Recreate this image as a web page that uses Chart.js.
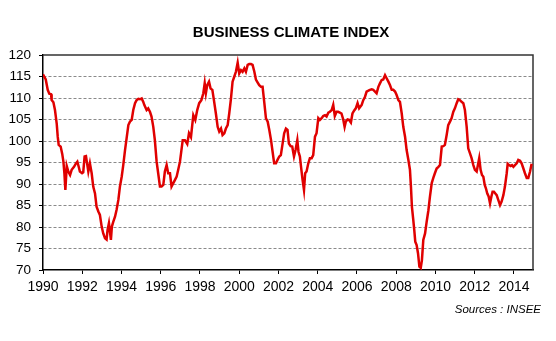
<!DOCTYPE html>
<html>
<head>
<meta charset="utf-8">
<script src="https://cdn.jsdelivr.net/npm/chart.js@4/dist/chart.umd.min.js"></script>
<style>
html,body{margin:0;padding:0;background:#fff;}
#wrap{width:556px;height:341px;position:relative;}
</style>
</head>
<body>
<div id="wrap"><canvas id="c" width="556" height="341"></canvas></div>
<script>
const chartTitle = 'BUSINESS CLIMATE INDEX';
const sourceNote = 'Sources : INSEE';
const xMin = 1990, xMax = 2014.97, xStep = 2;
const yMin = 70, yMax = 120, yStep = 5;

// decimal year of each observation
const dates = [
1990.00,1990.14,1990.24,1990.32,1990.41,1990.44,1990.53,1990.61,1990.70,1990.75,1990.80,1990.90,1990.98,
1991.04,1991.09,1991.14,1991.21,1991.29,1991.38,1991.46,1991.58,1991.68,1991.75,1991.82,1991.88,1991.99,
1992.05,1992.12,1992.19,1992.26,1992.31,1992.39,1992.48,1992.56,1992.65,1992.73,1992.82,1992.90,1992.99,
1993.07,1993.16,1993.24,1993.29,1993.36,1993.41,1993.46,1993.51,1993.58,1993.67,1993.75,1993.84,1993.92,
1994.01,1994.09,1994.18,1994.26,1994.35,1994.43,1994.52,1994.60,1994.69,1994.77,1994.86,1994.94,
1995.03,1995.11,1995.16,1995.28,1995.36,1995.45,1995.53,1995.62,1995.70,1995.79,1995.87,1995.96,
1996.04,1996.13,1996.21,1996.30,1996.38,1996.47,1996.55,1996.64,1996.72,1996.81,1996.89,1996.98,
1997.12,1997.23,1997.35,1997.44,1997.54,1997.66,1997.76,1997.86,1997.96,
1998.07,1998.17,1998.24,1998.30,1998.37,1998.46,1998.54,1998.63,1998.71,1998.81,1998.90,1998.98,
1999.07,1999.15,1999.24,1999.32,1999.41,1999.49,1999.58,1999.66,1999.75,1999.83,1999.92,
2000.00,2000.09,2000.17,2000.26,2000.34,2000.43,2000.51,2000.60,2000.68,2000.77,2000.85,2000.94,
2001.02,2001.11,2001.19,2001.28,2001.36,2001.45,2001.53,2001.62,2001.70,2001.78,2001.87,2001.95,
2002.04,2002.12,2002.21,2002.29,2002.38,2002.46,2002.53,2002.62,2002.70,2002.79,2002.87,2002.96,
2003.02,2003.09,2003.16,2003.23,2003.30,2003.36,2003.43,2003.52,2003.60,2003.69,2003.77,2003.86,2003.94,
2004.03,2004.11,2004.20,2004.28,2004.37,2004.45,2004.54,2004.62,2004.71,2004.79,2004.87,2004.96,
2005.04,2005.13,2005.21,2005.30,2005.37,2005.43,2005.52,2005.60,2005.69,2005.77,2005.86,2005.94,
2006.03,2006.11,2006.24,2006.32,2006.41,2006.49,2006.58,2006.66,2006.75,2006.83,2006.92,
2007.00,2007.09,2007.17,2007.26,2007.34,2007.43,2007.51,2007.60,2007.68,2007.77,2007.85,2007.94,
2008.02,2008.11,2008.19,2008.28,2008.36,2008.45,2008.53,2008.62,2008.70,2008.75,2008.80,2008.87,2008.92,2008.97,
2009.04,2009.11,2009.18,2009.25,2009.31,2009.38,2009.47,2009.55,2009.64,2009.72,2009.81,2009.89,2009.97,
2010.06,2010.15,2010.23,2010.32,2010.40,2010.48,2010.57,2010.65,2010.74,2010.82,2010.91,2010.99,
2011.08,2011.16,2011.25,2011.33,2011.42,2011.50,2011.59,2011.67,2011.76,2011.84,2011.93,
2012.01,2012.10,2012.18,2012.23,2012.30,2012.37,2012.44,2012.51,2012.57,2012.64,2012.71,2012.78,2012.85,2012.91,2012.98,
2013.05,2013.12,2013.20,2013.29,2013.37,2013.46,2013.54,2013.63,2013.68,2013.75,2013.83,2013.90,2013.97,
2014.05,2014.14,2014.22,2014.31,2014.39,2014.48,2014.56,2014.65,2014.73,2014.82,2014.90
];

// business climate index values
const climate = [
115.5,114.3,111.9,111.0,110.9,109.5,109.0,107.2,104.0,101.0,99.1,98.7,97.0,
95.2,92.5,88.6,94.2,92.9,92.1,93.3,94.0,94.8,95.2,94.0,92.9,92.5,
92.7,96.4,96.5,94.4,92.9,94.8,92.5,89.4,87.8,84.7,83.6,82.8,80.1,
78.5,77.4,77.1,79.3,80.9,79.0,77.0,80.1,81.2,82.4,84.0,86.3,89.4,
91.7,94.4,97.9,100.6,103.7,104.5,104.9,107.2,108.8,109.5,109.8,109.7,
109.9,109.1,108.4,107.2,107.6,106.8,105.7,103.3,100.2,95.2,92.5,89.4,
89.4,89.8,92.9,94.4,92.5,92.5,89.4,90.2,90.9,91.7,93.3,95.2,
100.2,100.2,99.3,101.8,100.9,106.0,104.9,107.2,108.8,
109.5,111.1,113.4,111.1,113.0,113.8,112.2,111.9,109.5,106.4,103.3,102.2,
102.9,101.4,101.8,102.9,103.7,106.4,109.9,113.8,115.0,116.1,118.2,
115.7,116.5,116.1,116.9,116.1,117.7,117.9,117.9,117.7,116.1,114.3,113.6,
113.0,112.6,112.6,108.8,105.3,104.5,102.6,100.2,97.5,94.8,94.8,95.6,
96.4,96.7,99.4,101.8,102.9,102.6,99.4,98.8,98.7,96.4,97.9,100.2,
97.5,96.4,93.6,90.9,88.6,92.5,92.9,94.8,96.0,96.0,96.7,101.0,101.8,
105.3,104.9,105.3,105.8,106.0,105.7,106.6,106.8,107.2,108.4,105.8,106.8,
106.8,106.6,106.4,105.0,103.3,104.5,105.0,104.9,104.3,106.4,107.1,107.6,
108.8,107.6,108.4,109.5,110.3,111.5,111.7,111.9,112.0,111.9,111.5,
111.1,112.6,113.4,114.2,114.3,115.3,114.6,113.8,113.0,111.9,111.9,111.5,
110.7,109.5,109.1,106.4,103.3,101.0,97.9,95.6,93.3,89.4,84.7,81.6,79.3,76.6,
75.8,73.9,70.8,70.5,72.3,77.0,78.5,81.2,83.9,87.1,90.2,91.4,92.5,
93.6,94.0,94.4,98.7,98.8,99.1,101.4,103.7,104.5,105.3,106.8,107.6,
108.8,109.7,109.5,109.1,108.8,107.2,103.3,98.3,97.1,96.0,94.4,
93.3,92.9,94.8,96.0,93.3,92.1,91.7,89.8,89.0,87.8,87.1,85.5,87.1,88.2,88.2,
87.8,87.4,86.3,85.1,85.9,87.4,89.4,92.5,94.7,94.4,94.2,94.4,94.0,
94.4,94.8,95.6,95.4,94.8,93.6,92.5,91.4,91.4,92.9,94.7
];

const FONT = '"Liberation Sans", Arial, Helvetica, sans-serif';

const framePlugin = {
  id: 'frame',
  beforeDatasetsDraw(chart) {
    const {ctx, chartArea: a} = chart;
    ctx.save();
    ctx.strokeStyle = '#333';
    ctx.lineWidth = 1.5;
    ctx.beginPath();
    ctx.moveTo(a.left, a.top);
    ctx.lineTo(a.right, a.top);
    ctx.lineTo(a.right, a.bottom);
    ctx.stroke();
    ctx.restore();
  },
  afterDraw(chart) {
    const {ctx, chartArea: a} = chart;
    ctx.save();
    ctx.fillStyle = '#000';
    ctx.font = 'bold 15px ' + FONT;
    ctx.textAlign = 'center';
    ctx.textBaseline = 'alphabetic';
    ctx.fillText(chartTitle, (a.left + a.right) / 2 + 3, a.top - 18);
    ctx.font = 'italic 11.5px ' + FONT;
    ctx.textAlign = 'right';
    ctx.fillText(sourceNote, a.right + 8, a.bottom + 43);
    ctx.restore();
  }
};

new Chart(document.getElementById('c'), {
  type: 'line',
  data: {
    datasets: [{
      data: dates.map((d, i) => ({x: d, y: climate[i]})),
      borderColor: '#e00000',
      borderWidth: 2.5,
      pointRadius: 0,
      tension: 0,
      fill: false
    }]
  },
  options: {
    responsive: false,
    devicePixelRatio: 1,
    animation: false,
    layout: {padding: {top: 55, right: 23, left: 0, bottom: 0}},
    plugins: {legend: {display: false}, tooltip: {enabled: false}, title: {display: false}},
    scales: {
      x: {
        type: 'linear',
        min: xMin, max: xMax,
        afterFit: s => { s.height = 71; },
        ticks: {
          stepSize: xStep, includeBounds: false, autoSkip: false, maxRotation: 0,
          color: '#000', padding: 5,
          font: {family: FONT, size: 14},
          callback: v => String(v)
        },
        grid: {drawOnChartArea: false, drawTicks: true, tickLength: 4, color: '#000', tickColor: '#000'},
        border: {color: '#000', width: 1.5}
      },
      y: {
        min: yMin, max: yMax,
        afterFit: s => { s.width = 43; },
        ticks: {
          stepSize: yStep, color: '#000', padding: 8,
          font: {family: FONT, size: 13.5}
        },
        grid: {
          color: c => (c.tick && (c.tick.value === yMin || c.tick.value === yMax)) ? 'rgba(0,0,0,0)' : '#8a8a8a',
          lineWidth: 1, tickLength: 4, tickColor: '#000'
        },
        border: {color: '#000', width: 1.5, dash: [3, 2]}
      }
    }
  },
  plugins: [framePlugin]
});
</script>
</body>
</html>
